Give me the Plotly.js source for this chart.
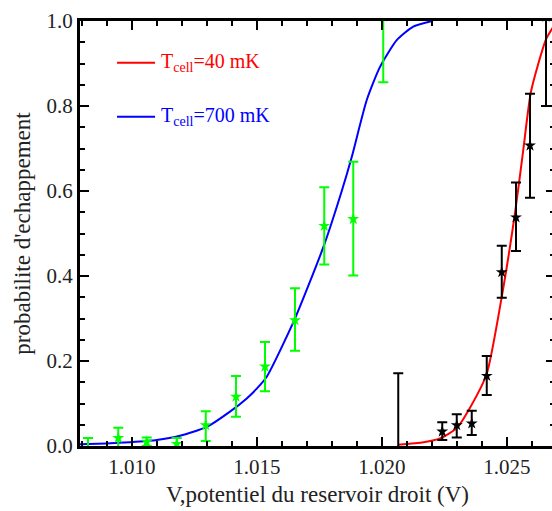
<!DOCTYPE html>
<html>
<head>
<meta charset="utf-8">
<script src="https://cdn.plot.ly/plotly-3.0.1.min.js"></script>
<style>
html,body{margin:0;padding:0;overflow:hidden;background:#fff;}
#chart{width:560px;height:511px;}
</style>
</head>
<body>
<div id="chart"></div>
<script>
// Measured points, T = 700 mK (green)
const greenV   = [1.00825, 1.00946, 1.01060, 1.01180, 1.01296, 1.01417, 1.01533, 1.01653, 1.01770, 1.01886, 1.02006];
const greenP   = [-0.008, 0.019, 0.010, 0.005, 0.049, 0.116, 0.187, 0.296, 0.518, 0.534, 1.01];
const greenErrUp   = [0.027, 0.024, 0.010, 0.014, 0.033, 0.049, 0.058, 0.075, 0.091, 0.135, 0.0];
const greenErrDown = [0.017, 0.024, 0.010, 0.014, 0.037, 0.047, 0.058, 0.072, 0.091, 0.133, 0.154];

// Measured points, T = 40 mK (black)
const blackV   = [1.02066, 1.02242, 1.02300, 1.02360, 1.02420, 1.02480, 1.02537, 1.02593, 1.02657];
const blackP   = [-0.01, 0.034, 0.049, 0.053, 0.165, 0.409, 0.538, 0.707, 1.01];
const blackErrUp   = [0.181, 0.022, 0.026, 0.030, 0.047, 0.062, 0.082, 0.122, 0.0];
const blackErrDown = [0.171, 0.020, 0.029, 0.027, 0.045, 0.060, 0.079, 0.123, 0.21];

// Fit curve, T = 700 mK (blue)
const blueV = [1.00793, 1.0090, 1.00993, 1.0110, 1.01193, 1.0130, 1.01393, 1.0146, 1.0150, 1.0154, 1.0165, 1.01767, 1.0184, 1.0188, 1.0194, 1.01993, 1.0206, 1.02126, 1.02202];
const blueP = [0.004, 0.006, 0.009, 0.014, 0.024, 0.045, 0.081, 0.112, 0.135, 0.163, 0.296, 0.469, 0.60, 0.68, 0.814, 0.892, 0.955, 0.987, 1.0];

// Fit curve, T = 40 mK (red)
const redV = [1.02066, 1.02167, 1.02233, 1.0230, 1.02353, 1.0242, 1.0248, 1.02533, 1.02566, 1.02597, 1.02657, 1.0269];
const redP = [0.003, 0.009, 0.018, 0.042, 0.09, 0.17, 0.351, 0.548, 0.696, 0.834, 0.957, 0.99];

const xTickVals = [1.010, 1.015, 1.020, 1.025];
const xTickText = ["1.010", "1.015", "1.020", "1.025"];
const yTickVals = [0, 0.2, 0.4, 0.6, 0.8, 1.0];
const yTickText = ["0.0", "0.2", "0.4", "0.6", "0.8", "1.0"];

const legendNames = ["T<sub>cell</sub>=40 mK", "T<sub>cell</sub>=700 mK"];
const legendColors = ["#ff0000", "#0000ff"];

const serif = "Liberation Serif, Times New Roman, serif";

const traces = [
  {x: blueV, y: blueP, mode: 'lines', line: {color: '#0000ff', width: 2, shape: 'spline', smoothing: 0.6}, showlegend: false, hoverinfo: 'skip'},
  {x: redV, y: redP, mode: 'lines', line: {color: '#ff0000', width: 2, shape: 'spline', smoothing: 0.6}, showlegend: false, hoverinfo: 'skip'},
  {x: greenV, y: greenP, mode: 'markers', marker: {symbol: 'star', size: 9, color: '#00ff00'},
   error_y: {type: 'data', symmetric: false, array: greenErrUp, arrayminus: greenErrDown, color: '#00ff00', thickness: 2, width: 5},
   showlegend: false},
  {x: blackV, y: blackP, mode: 'markers', marker: {symbol: 'star', size: 9, color: '#000000'},
   error_y: {type: 'data', symmetric: false, array: blackErrUp, arrayminus: blackErrDown, color: '#000000', thickness: 2, width: 5},
   showlegend: false}
];

const legendY = [0.902, 0.775];
const shapes = [];
const annotations = [];
for (let i = 0; i < legendNames.length; i++) {
  shapes.push({type: 'line', xref: 'paper', yref: 'paper', x0: 0.078, x1: 0.158, y0: legendY[i], y1: legendY[i],
               line: {color: legendColors[i], width: 2}});
  annotations.push({xref: 'paper', yref: 'paper', x: 0.166, y: legendY[i], xanchor: 'left', yanchor: 'middle',
                    text: legendNames[i], showarrow: false, font: {family: serif, size: 20, color: legendColors[i]}});
}

const layout = {
  width: 560, height: 511,
  margin: {l: 80, r: 5, t: 21, b: 65},
  paper_bgcolor: '#ffffff', plot_bgcolor: '#ffffff',
  showlegend: false,
  font: {family: serif, size: 20, color: '#000'},
  xaxis: {
    range: [1.00793, 1.02693], showgrid: false, zeroline: false,
    showline: true, linecolor: '#000', linewidth: 3, mirror: 'allticks',
    ticks: 'inside', ticklen: 9, tickwidth: 2, tickcolor: '#000',
    tickvals: xTickVals, ticktext: xTickText,
    tickfont: {family: serif, size: 21, color: '#222'},
    minor: {dtick: 0.001, tick0: 1.0, ticks: 'inside', ticklen: 5, tickwidth: 2, tickcolor: '#000'},
    title: {text: 'V,potentiel du reservoir droit (V)', font: {family: serif, size: 23, color: '#222'}, standoff: 8}
  },
  yaxis: {
    range: [0, 1.0], showgrid: false, zeroline: false,
    showline: true, linecolor: '#000', linewidth: 3, mirror: 'allticks',
    ticks: 'inside', ticklen: 9, tickwidth: 2, tickcolor: '#000',
    tickvals: yTickVals, ticktext: yTickText,
    tickfont: {family: serif, size: 21, color: '#222'},
    minor: {dtick: 0.05, tick0: 0, ticks: 'inside', ticklen: 5, tickwidth: 2, tickcolor: '#000'},
    title: {text: "probabilite d'echappement", font: {family: serif, size: 23, color: '#222'}, standoff: 10}
  },
  shapes: shapes,
  annotations: annotations
};

Plotly.newPlot('chart', traces, layout, {displayModeBar: false, staticPlot: true});
</script>
</body>
</html>
